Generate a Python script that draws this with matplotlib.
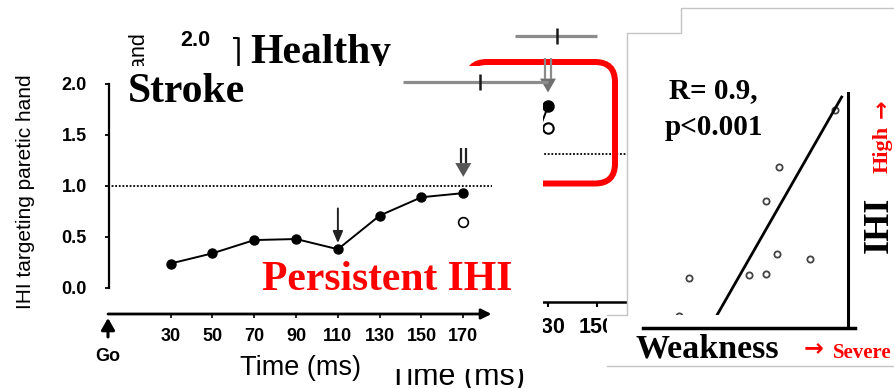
import matplotlib
matplotlib.use("Agg")
import matplotlib.pyplot as plt
from matplotlib.patches import FancyBboxPatch, Polygon, Rectangle
import numpy as np

plt.rcParams['font.family'] = ['Liberation Sans', 'DejaVu Sans']
SANS = ['Liberation Sans', 'DejaVu Sans']
SERIF = ['Liberation Serif', 'DejaVu Serif']
ARROWFONT = ['DejaVu Sans']

# ---------------- data ----------------
time_ms = [30, 50, 70, 90, 110, 130, 150, 170]
stroke_ihi = [0.24, 0.34, 0.47, 0.48, 0.38, 0.71, 0.89, 0.93]
stroke_open_time = [170]
stroke_open_ihi = [0.65]

healthy_time = [110, 130]
healthy_ihi = [0.30, 1.41]
healthy_open_time = [130]
healthy_open_ihi = [1.22]

ihi_ticks = [0.0, 0.5, 1.0, 1.5, 2.0]
ihi_ticklabels = ['0.0', '0.5', '1.0', '1.5', '2.0']
time_ticklabels = [str(t) for t in time_ms]

# reaction-time bars (healthy time scale): y level, left, mean, right
rt_bar_upper = [2.02, 116.5, 133.7, 150.0]
rt_bar_lower = [1.62, 70.8, 102.2, 130.0]

# arrows (time, top, head base, tip)
healthy_arrow = [130, 1.83, 1.65, 1.53]
stroke_double_arrow = [170, 1.37, 1.225, 1.09]
stroke_single_arrow = [110, 0.78, 0.44]

# correlation panel (arbitrary units)
weakness = [93.7, 66.3, 60.0, 65.4, 81.5, 51.7, 60.0, 22.4, 17.6]
ihi_scatter = [0.928, 0.685, 0.540, 0.315, 0.294, 0.226, 0.230, 0.213, 0.051]
fit_slope = 0.01526
fit_intercept = -0.496
fit_x = [30.0, 96.9]

# ---------------- figure ----------------
W, H = 894, 388
fig = plt.figure(figsize=(W / 100, H / 100), dpi=100)
fig.patch.set_facecolor('white')


def px_axes(x0, y0, x1, y1, z):
    ax = fig.add_axes([x0 / W, 1 - y1 / H, (x1 - x0) / W, (y1 - y0) / H], zorder=z)
    ax.patch.set_alpha(0)
    return ax


def canvas(z):
    c = fig.add_axes([0, 0, 1, 1], zorder=z)
    c.set_xlim(0, W)
    c.set_ylim(H, 0)
    c.axis('off')
    return c


def double_arrow(ax, x, y_top, y_base, y_tip, xpp, shaft_color, head_color,
                 half_gap=2.5, half_head=8):
    for s in (-1, 1):
        ax.plot([x + s * half_gap * xpp] * 2, [y_top, y_base], color=shaft_color,
                lw=1.6, clip_on=False, solid_capstyle='butt')
    ax.fill([x - half_head * xpp, x + half_head * xpp, x], [y_base, y_base, y_tip],
            color=head_color, lw=0, clip_on=False)


def bold_ticks(ax):
    for lbl in ax.get_xticklabels() + ax.get_yticklabels():
        lbl.set_fontweight('bold')


# ---------- healthy (background) panel ----------
ax_h = px_axes(229.5, 14.8, 633.75, 302, 0)
ax_h.set_xlim(0, 165)
ax_h.set_ylim(-0.276, 2.2)
ax_h.plot(healthy_time, healthy_ihi, '-o', color='black', lw=1.4, ms=8)
ax_h.plot(healthy_open_time, healthy_open_ihi, 'o', mfc='white', mec='black', ms=7.5, mew=1.5)
ax_h.axhline(1.0, color='black', ls=(0, (1, 1)), lw=1.3)
for s in ['top', 'right']:
    ax_h.spines[s].set_visible(False)
ax_h.spines['left'].set_position(('data', 3.47))
ax_h.spines['left'].set_bounds(0, 2)
ax_h.spines['left'].set_linewidth(1.8)
ax_h.spines['bottom'].set_linewidth(1.8)
ax_h.set_yticks(ihi_ticks, ihi_ticklabels)
ax_h.set_xticks(time_ms[:-1], time_ticklabels[:-1])
ax_h.tick_params(axis='y', direction='out', length=3.6, width=1.5, pad=16.5, labelsize=15.5)
ax_h.tick_params(axis='x', direction='out', length=3.6, width=1.5, pad=7, labelsize=15.5)
bold_ticks(ax_h)
ax_h.set_xlabel('Time (ms)', fontsize=22)
ax_h.xaxis.set_label_coords(0.563, -0.289)
ax_h.xaxis.label.set_va('baseline')
ax_h.set_ylabel('IHI targeting moving hand', fontsize=15.5)
ax_h.yaxis.set_label_coords(-0.2214, 0.9366)
ax_h.yaxis.label.set_ha('right')
ax_h.yaxis.label.set_va('center')

# red highlight box + "Healthy" title (behind stroke panel)
c05 = canvas(0.5)
c05.add_patch(FancyBboxPatch((467, 62), 148, 121.5,
                             boxstyle='round,pad=0,rounding_size=20',
                             fill=False, ec='#ff0000', lw=4.3))
c05.text(250, 63, 'Healthy', family=SERIF, fontweight='bold', fontsize=30,
         ha='left', va='baseline')

# ---------- stroke panel (front) ----------
c1 = canvas(1)
c1.add_patch(Polygon([(0, 66), (543, 66), (543, 369), (393, 369), (393, 388), (0, 388)],
                     closed=True, fc='white', ec='none'))
c1.text(128, 102, 'Stroke', family=SERIF, fontweight='bold', fontsize=30,
        ha='left', va='baseline')
c1.text(262, 290, 'Persistent IHI', family=SERIF, fontweight='bold', fontsize=30,
        color='#ff0000', ha='left', va='baseline')

ax_s = px_axes(108, 63.6, 491.5, 314, 2)
ax_s.set_xlim(0, 183.5)
ax_s.set_ylim(-0.255, 2.2)
ax_s.plot(time_ms, stroke_ihi, '-o', color='black', lw=1.4, ms=6.5)
ax_s.plot(stroke_open_time, stroke_open_ihi, 'o', mfc='white', mec='black', ms=7, mew=1.2)
ax_s.axhline(1.0, color='black', ls=(0, (1, 1)), lw=1.3)
for s in ['top', 'right', 'bottom']:
    ax_s.spines[s].set_visible(False)
ax_s.spines['left'].set_position(('data', 0.5))
ax_s.spines['left'].set_bounds(0, 2)
ax_s.spines['left'].set_linewidth(1.6)
ax_s.set_yticks(ihi_ticks, ihi_ticklabels)
ax_s.set_xticks(time_ms, time_ticklabels)
ax_s.tick_params(axis='y', direction='out', length=3, width=1.3, pad=13, labelsize=13)
ax_s.tick_params(axis='x', direction='out', length=3, width=1.2, pad=7, labelsize=13)
bold_ticks(ax_s)
ax_s.annotate('', xy=(183.5, -0.255), xytext=(0, -0.255), annotation_clip=False,
              arrowprops=dict(arrowstyle='-|>,head_length=0.6,head_width=0.3',
                              lw=2, color='black', shrinkA=0, shrinkB=0))
ax_s.annotate('', xy=(0, -0.294), xytext=(0, -0.48), annotation_clip=False,
              arrowprops=dict(arrowstyle='-|>,head_length=0.7,head_width=0.4',
                              lw=2.2, color='black', shrinkA=0, shrinkB=0))
ax_s.text(0, -0.667, 'Go', ha='center', va='center', fontsize=13, fontweight='bold')
ax_s.annotate('', xy=(stroke_single_arrow[0], stroke_single_arrow[2]),
              xytext=(stroke_single_arrow[0], stroke_single_arrow[1]),
              arrowprops=dict(arrowstyle='-|>,head_length=0.7,head_width=0.3',
                              lw=1.4, color='#222222', shrinkA=0, shrinkB=0))
double_arrow(ax_s, *stroke_double_arrow, xpp=1 / 2.09, shaft_color='#222222',
             head_color='#555555', half_gap=2.3, half_head=8)
ax_s.set_xlabel('Time (ms)', fontsize=19.5)
ax_s.xaxis.set_label_coords(0.503, -0.2436)
ax_s.xaxis.label.set_va('baseline')
ax_s.set_ylabel('IHI targeting paretic hand', fontsize=15)
ax_s.yaxis.set_label_coords(-0.2164, 0.4872)
ax_s.yaxis.label.set_va('center')

# ---------- overlay of healthy markers ----------
ax_o = px_axes(229.5, 14.8, 633.75, 302, 3)
ax_o.set_xlim(0, 165)
ax_o.set_ylim(-0.276, 2.2)
ax_o.axis('off')
for bar in (rt_bar_upper, rt_bar_lower):
    y, lo, mid, hi = bar
    ax_o.plot([lo, hi], [y, y], color='#8c8c8c', lw=2.3, solid_capstyle='butt', clip_on=False)
    ax_o.plot([mid], [y], marker='|', ms=12, mew=1.8, color='#1a1a1a', clip_on=False)
double_arrow(ax_o, *healthy_arrow, xpp=1 / 2.45, shaft_color='#8a8a8a',
             head_color='#707070', half_gap=3, half_head=8)

# ---------- correlation panel ----------
c4 = canvas(4)
c4.add_patch(Polygon([(627, 315), (627, 33), (681, 33), (681, 8), (894, 8), (894, 315)],
                     closed=True, fc='white', ec='none'))
c4.plot([627, 627, 681, 681, 894], [315, 33, 33, 8, 8], color='#c4c4c4', lw=1)

ax_sc = px_axes(643, 93, 848, 315, 5)
ax_sc.set_xlim(0, 100)
ax_sc.set_ylim(0.0553, 1.0)
ax_sc.axis('off')
ax_sc.plot(weakness, ihi_scatter, 'o', mfc='white', mec='#444444', ms=4.5, mew=1.3)
fx = np.array(fit_x)
ax_sc.plot(fx, fit_intercept + fit_slope * fx, color='black', lw=2)

c6 = canvas(6)
c6.add_patch(Rectangle((607, 315), 287, 51, fc='white', ec='none'))
c6.plot([607, 627], [315, 315], color='#c4c4c4', lw=1)
c6.plot([607, 894], [366, 366], color='#c4c4c4', lw=1)
c6.text(635, 357, 'Weakness', family=SERIF, fontweight='bold', fontsize=24.5,
        ha='left', va='baseline')
c6.text(804, 355, '→', family=ARROWFONT, fontweight='bold', fontsize=17,
        color='#ff0000', ha='left', va='baseline')
c6.text(833, 358, 'Severe', family=SERIF, fontweight='bold', fontsize=15,
        color='#ff0000', ha='left', va='baseline')
c6.text(713, 98, 'R= 0.9,', family=SERIF, fontweight='bold', fontsize=21,
        ha='center', va='baseline')
c6.text(714, 135, 'p<0.001', family=SERIF, fontweight='bold', fontsize=21,
        ha='center', va='baseline')
c6.text(879, 225, 'IHI', family=SERIF, fontweight='bold', fontsize=26,
        rotation=90, ha='center', va='center')
c6.text(883, 173, 'High', family=SERIF, fontweight='bold', fontsize=16,
        color='#ff0000', rotation=90, ha='center', va='bottom')
c6.text(881, 109, '→', family=ARROWFONT, fontweight='bold', fontsize=16,
        color='#ff0000', rotation=90, ha='center', va='center')

ax_f = px_axes(643, 93, 855, 328, 7)
ax_f.set_xlim(0, 103.4)
ax_f.set_ylim(0, 1)
ax_f.set_xticks([])
ax_f.set_yticks([])
ax_f.spines['top'].set_visible(False)
ax_f.spines['left'].set_visible(False)
ax_f.spines['right'].set_position(('data', 100))
ax_f.spines['right'].set_linewidth(2.2)
ax_f.spines['bottom'].set_linewidth(2.5)

fig.savefig('out.png', dpi=100)
